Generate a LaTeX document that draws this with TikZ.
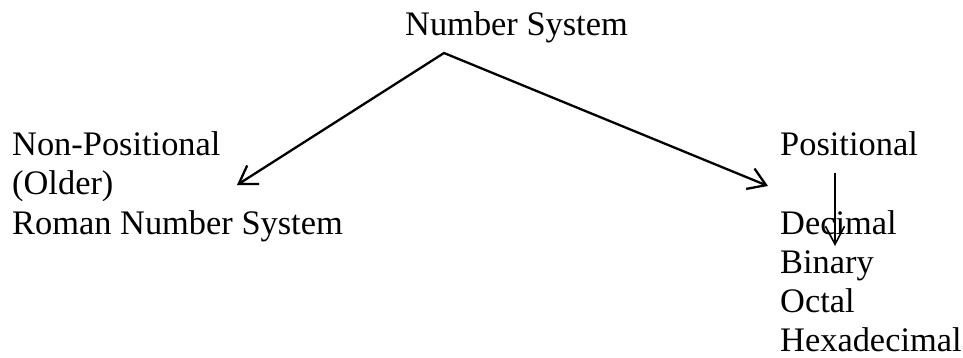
\documentclass[tikz,border=0pt]{standalone}
\usepackage{fontspec}
\setmainfont{Liberation Serif}
\usetikzlibrary{arrows.meta}

\tikzset{txt/.style={anchor=base west, inner sep=0pt, font=\fontsize{34.4}{39}\selectfont}}

\begin{document}
\begin{tikzpicture}[x=1pt,y=-1pt]
  \useasboundingbox (0,0) rectangle (963,358);
   \node[txt] (numsys) at (405,36) {Number System};
   \node[txt] (nonpos) at (12,156) {Non-Positional};
    \node[txt] (older) at (12,195) {(Older)};
     \node[txt] (roman) at (12,234) {Roman Number System};
   \node[txt] (pos) at (780,156) {Positional};
    \node[txt] (dec) at (780,234) {Decimal};
     \node[txt] (bin) at (780,273) {Binary};
      \node[txt] (oct) at (780,312) {Octal};
       \node[txt] (hex) at (780,351) {Hexadecimal};
   \coordinate (apex) at (444,53);
   \coordinate (ltip) at (237,185);
   \coordinate (rtip) at (768,186);
   \coordinate (vtop) at (835,173);
   \coordinate (vtip) at (835,246);
   \draw[black, line width=2.3pt, line join=miter, {Straight Barb[length=17pt,width=22pt]}-{Straight Barb[length=17pt,width=22pt]}] (ltip) -- (apex) -- (rtip);
   \draw[black, line width=1.6pt, -{Straight Barb[length=18pt,width=19pt]}] (vtop) -- (vtip);
\end{tikzpicture}
\end{document}
